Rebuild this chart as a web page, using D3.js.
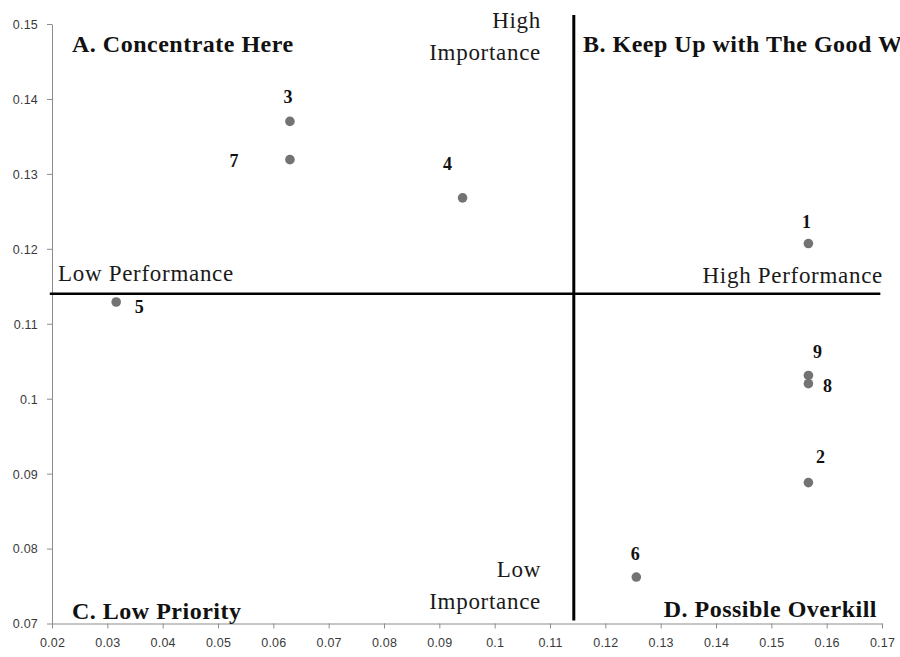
<!DOCTYPE html>
<html><head><meta charset="utf-8">
<script src="https://cdn.jsdelivr.net/npm/d3@7"></script>
<style>
html,body{margin:0;padding:0;background:#fff;overflow:hidden;}
svg{display:block;}
</style></head>
<body>
<svg id="chart" width="900" height="657"></svg>
<script>
// ---- data ----
const pointIds = ["1","2","3","4","5","6","7","8","9"];
const xValues  = [0.1567, 0.1567, 0.0630, 0.0942, 0.0316, 0.1256, 0.0630, 0.1567, 0.1567];
const yValues  = [0.1207, 0.0888, 0.1370, 0.1268, 0.1129, 0.0762, 0.1319, 0.1020, 0.1031];
const xTicks = [0.02,0.03,0.04,0.05,0.06,0.07,0.08,0.09,0.1,0.11,0.12,0.13,0.14,0.15,0.16,0.17];
const yTicks = [0.07,0.08,0.09,0.1,0.11,0.12,0.13,0.14,0.15];
const xTickLabels = ["0.02","0.03","0.04","0.05","0.06","0.07","0.08","0.09","0.1","0.11","0.12","0.13","0.14","0.15","0.16","0.17"];
const yTickLabels = ["0.07","0.08","0.09","0.1","0.11","0.12","0.13","0.14","0.15"];
const dividerX = 0.1143;     // split on x
const dividerY = 0.1140;     // split on y
const vLineExtent = [0.0704, 0.1512];
const hLineExtent = [0.0196, 0.1697];
const quadrantTitles = ["A. Concentrate Here","B. Keep Up with The Good Work","C. Low Priority","D. Possible Overkill"];
const axisNotes = ["High","Importance","Low","Importance","Low Performance","High Performance"];

// ---- layout (not data) ----
const labelOffsets = {"1":[-2,-16],"2":[12,-20],"3":[-2,-18],"4":[-15,-28],"5":[23,11],"6":[-1,-17],"7":[-56,7],"8":[19,8],"9":[9,-17]};

const svg = d3.select("#chart");
const x = d3.scaleLinear().domain([0.02,0.17]).range([52,882]);
const y = d3.scaleLinear().domain([0.07,0.15]).range([623.5,24]);

svg.append("rect").attr("width",900).attr("height",657).attr("fill","#fff");

// axes
const xAxis = d3.axisBottom(x).tickValues(xTicks).tickFormat((d,i)=>xTickLabels[i]).tickSize(5).tickSizeOuter(0);
const yAxis = d3.axisLeft(y).tickValues(yTicks).tickFormat((d,i)=>yTickLabels[i]).tickSize(5).tickSizeOuter(0);
const gx = svg.append("g").attr("transform",`translate(0,${y(0.07)})`).call(xAxis);
const gy = svg.append("g").attr("transform",`translate(${x(0.02)},0)`).call(yAxis);
[gx,gy].forEach(g=>{
  g.selectAll("path,line").attr("stroke","#8c8c8c").attr("stroke-width",1);
  g.selectAll("text").attr("fill","#3a3a3a").style("font-family","'Liberation Sans',Arial,sans-serif").style("font-size","12.5px").style("letter-spacing","0.2px");
});
gx.selectAll("text").attr("dy","0").attr("y",23);
gy.selectAll("text").attr("x",-14).attr("dy","0.35em");

// quadrant lines
svg.append("line").attr("x1",x(dividerX)).attr("x2",x(dividerX))
  .attr("y1",y(vLineExtent[1])).attr("y2",y(vLineExtent[0]))
  .attr("stroke","#000").attr("stroke-width",3);
svg.append("line").attr("x1",x(hLineExtent[0])).attr("x2",x(hLineExtent[1]))
  .attr("y1",y(dividerY)).attr("y2",y(dividerY))
  .attr("stroke","#000").attr("stroke-width",2.5);

// points
const pts = pointIds.map((id,i)=>({id, x:xValues[i], y:yValues[i]}));
svg.append("g").selectAll("circle").data(pts).join("circle")
  .attr("cx",d=>x(d.x)).attr("cy",d=>y(d.y)).attr("r",4.8)
  .attr("fill","#737373");

svg.append("g").selectAll("text").data(pts).join("text")
  .attr("x",d=>x(d.x)+labelOffsets[d.id][0]).attr("y",d=>y(d.y)+labelOffsets[d.id][1])
  .attr("text-anchor","middle")
  .style("font-family","'Liberation Serif','Times New Roman',serif").style("font-weight","bold").style("font-size","18px")
  .attr("fill","#111").text(d=>d.id);

// quadrant titles
const titleStyle = s=>s.style("font-family","'Liberation Serif','Times New Roman',serif").style("font-weight","bold").style("font-size","24px").style("letter-spacing","0.5px").attr("fill","#111");
svg.append("text").attr("x",72).attr("y",52).text(quadrantTitles[0]).call(titleStyle);
svg.append("text").attr("x",583).attr("y",52).text(quadrantTitles[1]).call(titleStyle);
svg.append("text").attr("x",72).attr("y",619).text(quadrantTitles[2]).call(titleStyle);
svg.append("text").attr("x",877).attr("y",617).attr("text-anchor","end").text(quadrantTitles[3]).call(titleStyle);

// notes
const noteStyle = s=>s.style("font-family","'Liberation Serif','Times New Roman',serif").style("font-size","23px").style("letter-spacing","0.7px").attr("fill","#1a1a1a");
svg.append("text").attr("x",541).attr("y",28).attr("text-anchor","end").text(axisNotes[0]).call(noteStyle);
svg.append("text").attr("x",541).attr("y",60).attr("text-anchor","end").text(axisNotes[1]).call(noteStyle);
svg.append("text").attr("x",541).attr("y",577).attr("text-anchor","end").text(axisNotes[2]).call(noteStyle);
svg.append("text").attr("x",541).attr("y",609).attr("text-anchor","end").text(axisNotes[3]).call(noteStyle);
svg.append("text").attr("x",58).attr("y",281).text(axisNotes[4]).call(noteStyle);
svg.append("text").attr("x",883).attr("y",283).attr("text-anchor","end").text(axisNotes[5]).call(noteStyle);
</script>
</body></html>
